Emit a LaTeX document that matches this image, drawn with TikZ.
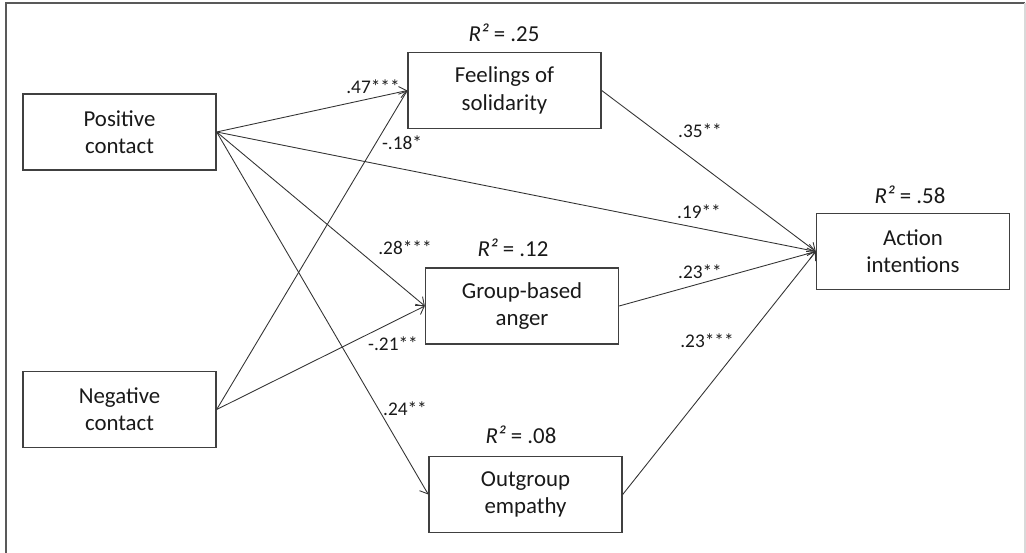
\documentclass[tikz,border=0pt]{standalone}
\usepackage{fontspec}
\setmainfont{Carlito}
\usetikzlibrary{arrows.meta}
\tikzset{
  var/.style={draw=black!75,line width=0.8pt,minimum width=3.86cm,minimum height=1.52cm,align=center,font=\fontsize{13}{15.5}\selectfont,text=black!90},
  arr/.style={-{Straight Barb[length=4pt,width=6.5pt]},line width=0.5pt,draw=black!80},
  coef/.style={font=\fontsize{11}{13}\selectfont,inner sep=1pt,text=black!90},
  rsq/.style={font=\fontsize{13}{15}\selectfont,inner sep=1pt,text=black!90}
}

\begin{document}
\begin{tikzpicture}[x=0.02cm,y=0.02cm]
        \useasboundingbox (0,0) rectangle (1026,553);
        \draw[black!65,line width=1.1pt] (6,0) -- (6,550) -- (1025,550);
        \draw[black!15,line width=0.6pt] (1025,550) -- (1025,0);

        \node[var] (pos) at (119.5,421) {Positive\\contact};
        \node[var] (neg) at (119.5,143.5) {Negative\\contact};
        \node[var] (sol) at (504.5,462.5) {Feelings of\\solidarity};
        \node[var] (ang) at (522,247) {Group-based\\anger};
        \node[var] (emp) at (525.5,58.5) {Outgroup\\empathy};
        \node[var] (act) at (913,301.5) {Action\\intentions};

        \node[rsq] (rsol) at (504,520) {\textit{R²} = .25};
        \node[rsq] (rang) at (513,305) {\textit{R²} = .12};
        \node[rsq] (remp) at (521,118) {\textit{R²} = .08};
        \node[rsq] (ract) at (910,358) {\textit{R²} = .58};

        \draw[arr] (pos.east) -- (sol.west);
        \draw[arr] (neg.east) -- (sol.west);
        \draw[arr] (pos.east) -- (ang.west);
        \draw[arr] (neg.east) -- (ang.west);
        \draw[arr] (pos.east) -- (emp.west);
        \draw[arr] (pos.east) -- (act.west);
        \draw[arr] (sol.east) -- (act.west);
        \draw[arr] (ang.east) -- (act.west);
        \draw[arr] (emp.east) -- (act.west);

        \node[coef] (c1) at (373,466) {.47***};
        \node[coef] (c2) at (402,410) {-.18*};
        \node[coef] (c3) at (405,305) {.28***};
        \node[coef] (c4) at (393,209) {-.21**};
        \node[coef] (c5) at (405,144) {.24**};
        \node[coef] (c6) at (700,422) {.35**};
        \node[coef] (c7) at (699,341) {.19**};
        \node[coef] (c8) at (700,281) {.23**};
        \node[coef] (c9) at (707,212) {.23***};
    \end{tikzpicture}
\end{document}
